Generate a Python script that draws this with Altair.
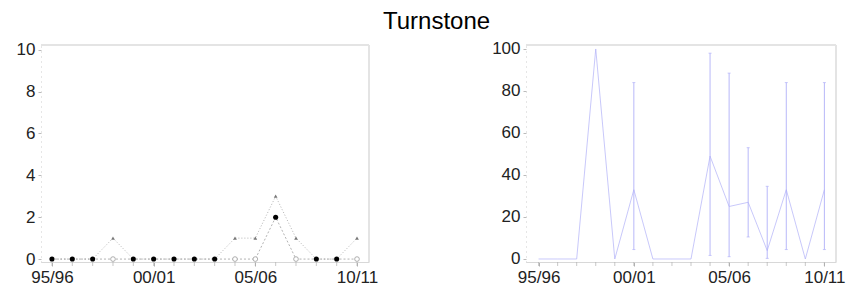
import altair as alt
import pandas as pd

years = list(range(16))
year_labels = ["95/96", "96/97", "97/98", "98/99", "99/00", "00/01", "01/02", "02/03",
               "03/04", "04/05", "05/06", "06/07", "07/08", "08/09", "09/10", "10/11"]
shown_years = [0, 5, 10, 15]

tri_values = [0, 0, 0, 1, 0, 0, 0, 0, 0, 1, 1, 3, 1, 0, 0, 1]
circ_values = [0, 0, 0, 0, 0, 0, 0, 0, 0, 0, 0, 2, 0, 0, 0, 0]
circ_filled = [1, 1, 1, 0, 1, 1, 1, 1, 1, 0, 0, 1, 0, 1, 1, 0]

pct_values = [0, 0, 0, 100, 0, 33, 0, 0, 0, 49, 25, 27, 4, 33, 0, 33]
pct_low = [None, None, None, None, None, 4.5, None, None, None, 1.7, 1.1, 10.5, 0.3, 4.5, None, 4.5]
pct_high = [None, None, None, None, None, 84, None, None, None, 98, 88.5, 53, 34.6, 84, None, 84]

df = pd.DataFrame({
    "year": years, "label": year_labels,
    "tri": tri_values, "circ": circ_values, "filled": circ_filled,
    "pct": pct_values, "lo": pct_low, "hi": pct_high,
})

label_expr = " : ".join(
    f"datum.value == {i} ? '{year_labels[i]}'" for i in shown_years) + " : ''"

FONT = "Liberation Sans"
LABEL_COLOR = "#222222"
TICK_COLOR = "#b0b0b0"

def x_enc(domain):
    return alt.X("year:Q", scale=alt.Scale(domain=domain, nice=False, zero=False),
                 axis=alt.Axis(values=shown_years, labelExpr=label_expr, title=None, grid=False,
                               domainColor="#d8d8d8", tickColor=TICK_COLOR, tickSize=4,
                               labelFontSize=17, labelColor=LABEL_COLOR, labelFont=FONT,
                               labelPadding=3, labelFlush=False, labelOverlap=False))

def y_axis(values):
    return alt.Axis(values=values, title=None, grid=False, domainColor="#cccccc",
                    domainDash=[1, 4], tickColor="#bbbbbb", tickSize=3,
                    labelFontSize=17, labelColor=LABEL_COLOR, labelFont=FONT, labelPadding=3,
                    labelOverlap=False)

def year_ticks(h):
    return alt.Chart(df).mark_tick(color=TICK_COLOR, orient="vertical", size=4,
                                   thickness=1, clip=False).encode(
        x=alt.X("year:Q"), y=alt.value(h + 2))

# ---------- left panel ----------
LW, LH = 328, 217
ly = alt.Y("tri:Q", scale=alt.Scale(domain=[-0.14, 10.22], nice=False, zero=False),
           axis=y_axis([0, 2, 4, 6, 8, 10]))
lbase = alt.Chart(df)

tri_line = lbase.mark_line(color="#a0a0a0", strokeWidth=0.8, strokeDash=[1, 2]).encode(
    x=x_enc([-0.54, 15.59]), y=ly)
tri_pts = lbase.transform_filter("datum.tri > 0").mark_point(
    shape="triangle-up", filled=True, color="#777777", size=14, opacity=1).encode(
    x=alt.X("year:Q"), y=alt.Y("tri:Q"))
circ_line = lbase.mark_line(color="#a0a0a0", strokeWidth=0.8, strokeDash=[2, 2]).encode(
    x=alt.X("year:Q"), y=alt.Y("circ:Q"))
circ_open = lbase.transform_filter("datum.filled == 0").mark_point(
    shape="circle", filled=True, fill="white", stroke="#9a9a9a", strokeWidth=0.8, size=22,
    opacity=1).encode(x=alt.X("year:Q"), y=alt.Y("circ:Q"))
circ_full = lbase.transform_filter("datum.filled == 1").mark_point(
    shape="circle", filled=True, color="#000000", size=26, opacity=1).encode(
    x=alt.X("year:Q"), y=alt.Y("circ:Q"))
l_top = alt.Chart(df).mark_rule(color="#e4e4e4", strokeWidth=2).encode(
    x=alt.value(0), x2=alt.value(LW), y=alt.value(0))
l_right = alt.Chart(df).mark_rule(color="#e4e4e4", strokeWidth=2).encode(
    x=alt.value(LW), y=alt.value(0), y2=alt.value(LH))

left = alt.layer(tri_line, year_ticks(LH), l_top, l_right, circ_line, tri_pts, circ_open,
                 circ_full).properties(width=LW, height=LH)

# ---------- right panel ----------
RW, RH = 310, 217
BLUE = "#b0b0f8"
ry = alt.Y("pct:Q", scale=alt.Scale(domain=[-1.43, 101.9], nice=False, zero=False),
           axis=y_axis([0, 20, 40, 60, 80, 100]))
rbase = alt.Chart(df)
p_line = rbase.mark_line(color=BLUE, strokeWidth=0.7).encode(x=x_enc([-0.66, 15.61]), y=ry)
err = rbase.transform_filter("datum.hi != null").mark_rule(color=BLUE, strokeWidth=0.9).encode(
    x=alt.X("year:Q"), y=alt.Y("lo:Q"), y2="hi:Q")
cap_hi = rbase.transform_filter("datum.hi != null").mark_tick(
    color=BLUE, orient="horizontal", size=3, thickness=1).encode(x=alt.X("year:Q"), y=alt.Y("hi:Q"))
cap_lo = rbase.transform_filter("datum.hi != null").mark_tick(
    color=BLUE, orient="horizontal", size=3, thickness=1).encode(x=alt.X("year:Q"), y=alt.Y("lo:Q"))
r_top = alt.Chart(df).mark_rule(color="#e4e4e4", strokeWidth=2).encode(
    x=alt.value(0), x2=alt.value(RW), y=alt.value(0))
r_right = alt.Chart(df).mark_rule(color="#e4e4e4", strokeWidth=2).encode(
    x=alt.value(RW), y=alt.value(0), y2=alt.value(RH))

right = alt.layer(p_line, year_ticks(RH), r_top, r_right, err, cap_hi, cap_lo).properties(
    width=RW, height=RH)

chart = alt.hconcat(left, right, spacing=157, bounds="flush").properties(
    title=alt.TitleParams("Turnstone", fontSize=24, font=FONT, fontWeight="normal",
                          color="#000000", anchor="middle", offset=6, dx=6),
    padding={"left": 8, "top": 1, "right": 0, "bottom": 0},
).configure_view(stroke=None).configure_axis(labelFontWeight="normal")

chart.save("out.html", embed_options={"renderer": "svg", "actions": False})
